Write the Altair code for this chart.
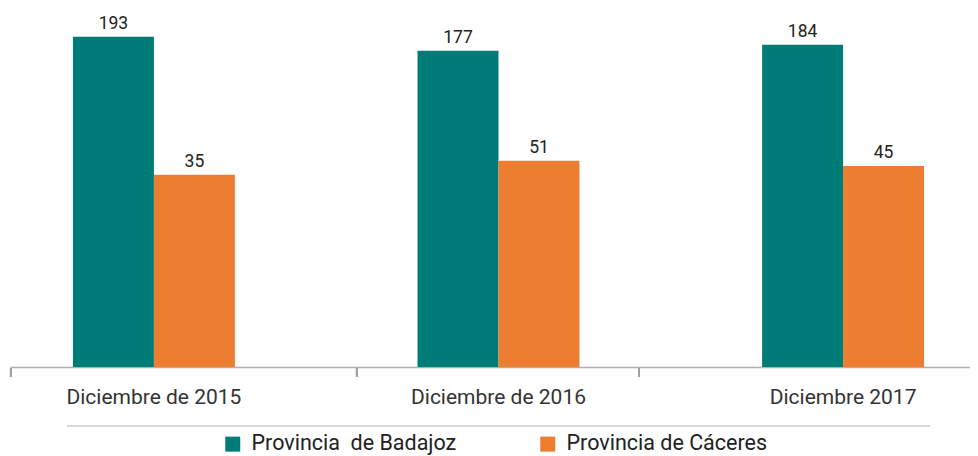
import altair as alt
import pandas as pd

categories = ["Diciembre de 2015", "Diciembre de 2016", "Diciembre 2017"]
series = ["Provincia\u00a0 de Badajoz", "Provincia de Cáceres"]
badajoz = [193, 177, 184]
caceres = [35, 51, 45]
colors = ["#007C78", "#ED7D31"]
AXIS_MIN = -185
AXIS_MAX = 226

rows = []
for i, c in enumerate(categories):
    rows.append({"cat": c, "serie": series[0], "valor": badajoz[i]})
    rows.append({"cat": c, "serie": series[1], "valor": caceres[i]})
df = pd.DataFrame(rows)

FONT = "Roboto"
W, H = 960, 359

xenc = alt.X("cat:N", sort=categories, title=None,
             scale=alt.Scale(paddingInner=0.53, paddingOuter=0.158, align=0.578),
             axis=alt.Axis(labelAngle=0, labelFontSize=21, labelFont=FONT,
                           labelColor="#333333", labelPadding=19, ticks=False,
                           domainColor="#b0b0b0", domainWidth=1.5))
yenc = alt.Y("valor:Q", scale=alt.Scale(domain=[AXIS_MIN, AXIS_MAX], nice=False, zero=False),
             axis=None)
xoff = alt.XOffset("serie:N", sort=series)

bars = alt.Chart(df).mark_bar().encode(
    x=xenc, y=yenc, y2=alt.datum(AXIS_MIN), xOffset=xoff,
    color=alt.Color("serie:N", sort=series,
                    scale=alt.Scale(domain=series, range=colors),
                    legend=alt.Legend(title=None, orient="none", direction="horizontal",
                                      legendX=212, legendY=425, symbolType="square",
                                      symbolSize=225, symbolStrokeWidth=0,
                                      labelFontSize=21.5, labelFont=FONT, labelColor="#222222",
                                      columnPadding=80, labelOffset=8, labelLimit=400)),
)

labels = alt.Chart(df).mark_text(baseline="alphabetic", dy=-8, fontSize=17.5,
                                 font=FONT, color="#222222").encode(
    x=alt.X("cat:N", sort=categories), y="valor:Q", xOffset=xoff, text="valor:Q")

layers = [bars, labels]

# axis tick marks (decoration)
for px in [0.7, 346.7, 629]:
    layers.append(alt.Chart(df).mark_rule(color="#a0a0a0", strokeWidth=1.5).encode(
        x=alt.value(px), y=alt.value(H + 1), y2=alt.value(H + 10)))

# separator line above the legend (decoration)
layers.append(alt.Chart(df).mark_rule(color="#dadada", strokeWidth=1.5).encode(
    x=alt.value(57), x2=alt.value(920), y=alt.value(H + 59)))

chart = alt.layer(*layers).properties(
    width=W, height=H,
    autosize=alt.AutoSizeParams(type="none"),
    padding={"left": 2, "top": 0, "right": 0, "bottom": 89},
).configure_view(stroke=None)

chart.save("out.html", embed_options={"renderer": "svg", "actions": False})
